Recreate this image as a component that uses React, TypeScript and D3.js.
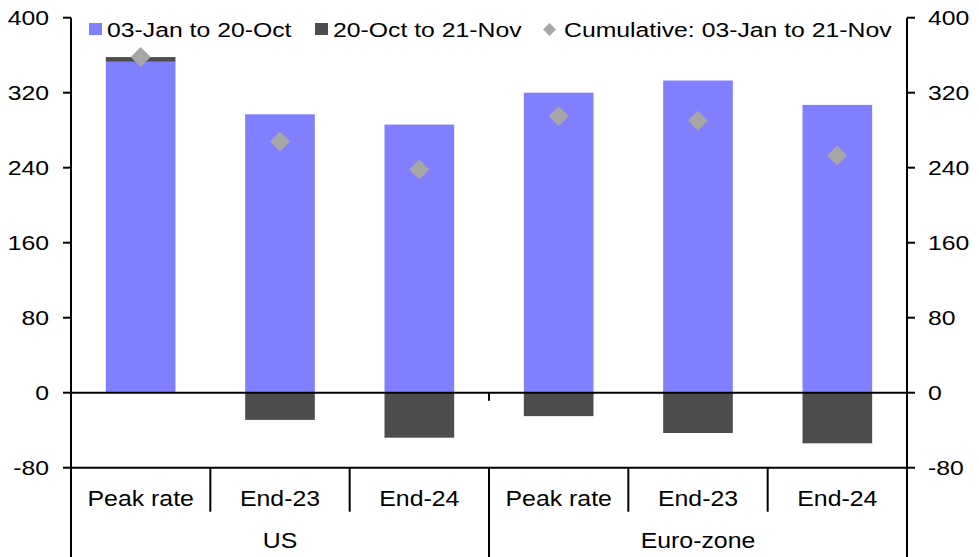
import React, { useEffect, useRef } from 'react';
import * as d3 from 'd3';

// Data
const groups = ['US', 'Euro-zone'];
const categories = ['Peak rate', 'End-23', 'End-24', 'Peak rate', 'End-23', 'End-24'];
const categoryGroup = ['US', 'US', 'US', 'Euro-zone', 'Euro-zone', 'Euro-zone'];
const janToOct = [353, 297, 286, 320, 333, 307];
const octToNov = [5, -29, -48, -25, -43, -54];
const cumulative = [358, 268, 238, 295, 290, 253];
const yTicks = [-80, 0, 80, 160, 240, 320, 400];
const seriesNames = ['03-Jan to 20-Oct', '20-Oct to 21-Nov', 'Cumulative: 03-Jan to 21-Nov'];

const App: React.FC = () => {
    const chartRef = useRef<SVGSVGElement>(null);

    useEffect(() => {
        if (!chartRef.current) return;
        document.body.style.margin = '0';

        d3.select(chartRef.current).selectAll('*').remove();

        const width = 979;
        const height = 557;
        const left = 71;
        const right = 907;
        const font = 'Liberation Sans, Arial, sans-serif';
        const colors = ['#8080ff', '#4d4d4d'];
        const diamondColor = '#a6a6a6';

        const svg = d3.select(chartRef.current)
            .attr('width', width)
            .attr('height', height)
            .style('display', 'block');

        const keys = categories.map((c, i) => `${i}`);
        const x = d3.scaleBand<string>()
            .domain(keys)
            .range([left, right])
            .paddingInner(0.5)
            .paddingOuter(0.25);
        const step = x.step();

        const y = d3.scaleLinear()
            .domain([-80, 400])
            .range([467.7, 17.7]);

        // reference text is horizontally stretched, hence the scale
        const addText = (
            g: d3.Selection<any, unknown, null, undefined>,
            tx: number, ty: number, txt: string, anchor: string,
            size = 21, sx = 1.18
        ) => g.append('text')
            .attr('transform', `translate(${tx},${ty}) scale(${sx},1)`)
            .attr('text-anchor', anchor)
            .attr('font-family', font)
            .attr('font-size', size)
            .attr('fill', '#000')
            .text(txt);

        // Stacked bars (diverging)
        const rows = keys.map((k, i) => ({ key: k, a: janToOct[i], b: octToNov[i] }));
        const stack = d3.stack<any>()
            .keys(['a', 'b'])
            .offset(d3.stackOffsetDiverging);
        const stacked = stack(rows);

        svg.append('g')
            .selectAll('g')
            .data(stacked)
            .enter()
            .append('g')
            .attr('fill', (d, i) => colors[i])
            .selectAll('rect')
            .data(d => d)
            .enter()
            .append('rect')
            .attr('x', d => x(d.data.key) as number)
            .attr('width', x.bandwidth())
            .attr('y', d => y(Math.max(d[0], d[1])))
            .attr('height', d => Math.abs(y(d[0]) - y(d[1])));

        // Cumulative diamonds
        const diamond = d3.symbol(d3.symbolSquare, 200);
        svg.append('g')
            .selectAll('path')
            .data(cumulative)
            .enter()
            .append('path')
            .attr('d', diamond as any)
            .attr('fill', diamondColor)
            .attr('transform', (d, i) =>
                `translate(${(x(keys[i]) as number) + x.bandwidth() / 2},${y(d)}) rotate(45)`);

        const axes = svg.append('g')
            .attr('stroke', '#000')
            .attr('stroke-width', 2);

        // Value axes
        axes.append('line').attr('x1', left).attr('x2', left).attr('y1', y(400)).attr('y2', height);
        axes.append('line').attr('x1', right).attr('x2', right).attr('y1', y(400)).attr('y2', height);
        yTicks.forEach(t => {
            axes.append('line').attr('x1', left - 8).attr('x2', left).attr('y1', y(t)).attr('y2', y(t));
            axes.append('line').attr('x1', right).attr('x2', right + 8).attr('y1', y(t)).attr('y2', y(t));
        });

        // Zero line and category axis line
        axes.append('line').attr('x1', left).attr('x2', right).attr('y1', y(0)).attr('y2', y(0));
        axes.append('line').attr('x1', left).attr('x2', right).attr('y1', y(-80)).attr('y2', y(-80));
        axes.append('line')
            .attr('x1', left + step * 3).attr('x2', left + step * 3)
            .attr('y1', y(0)).attr('y2', y(0) + 8);

        // Category separators
        d3.range(categories.length + 1).forEach(k => {
            const isGroup = k % 3 === 0;
            axes.append('line')
                .attr('x1', left + step * k).attr('x2', left + step * k)
                .attr('y1', y(-80)).attr('y2', isGroup ? height : 511.7);
        });

        // Tick labels
        const labels = svg.append('g');
        yTicks.forEach(t => {
            addText(labels, 49, y(t) + 7.5, `${t}`, 'end');
            addText(labels, 928, y(t) + 7.5, `${t}`, 'start');
        });

        categories.forEach((c, i) => {
            addText(labels, left + step * (i + 0.5), 506, c, 'middle', 22, 1.13);
        });
        groups.forEach(gName => {
            const idx = categoryGroup.map((g, i) => (g === gName ? i : -1)).filter(i => i >= 0);
            const cx = left + step * (d3.mean(idx) as number + 0.5);
            addText(labels, cx, 548, gName, 'middle', 22, 1.13);
        });

        // Legend
        const legend = svg.append('g');
        legend.append('rect').attr('x', 89).attr('y', 23).attr('width', 13).attr('height', 12).attr('fill', colors[0]);
        addText(legend, 107, 37, seriesNames[0], 'start');
        legend.append('rect').attr('x', 315).attr('y', 23).attr('width', 13).attr('height', 12).attr('fill', colors[1]);
        addText(legend, 333, 37, seriesNames[1], 'start');
        legend.append('path')
            .attr('d', d3.symbol(d3.symbolSquare, 84)() as string)
            .attr('fill', diamondColor)
            .attr('transform', 'translate(549.5,29.5) rotate(45)');
        addText(legend, 564, 37, seriesNames[2], 'start');
    }, []);

    return <svg ref={chartRef}></svg>;
};

export default App;
